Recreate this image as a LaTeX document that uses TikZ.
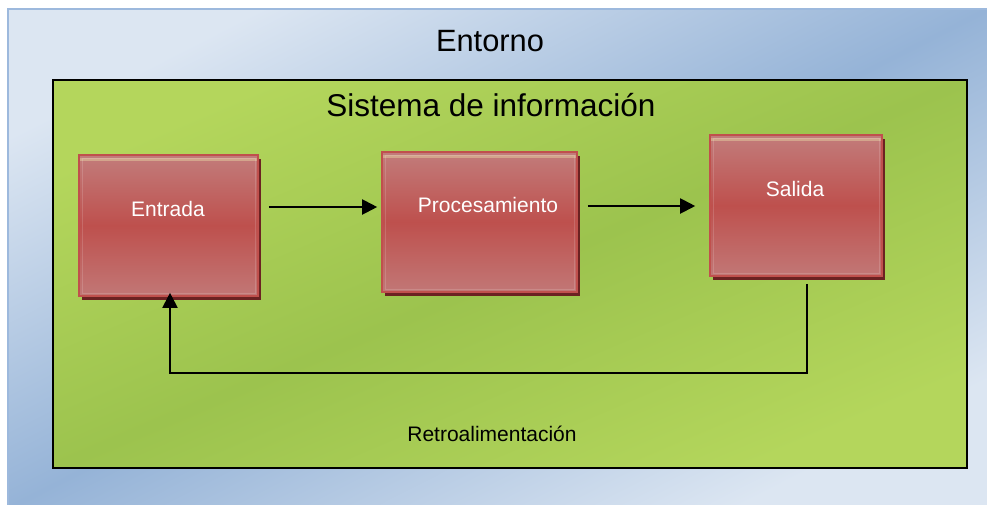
\documentclass[tikz,border=0pt]{standalone}
\usepackage{fontspec}
\setmainfont{Liberation Sans}
\usetikzlibrary{arrows.meta,shadows,calc}
\definecolor{envlight}{HTML}{DCE6F2}
\definecolor{envblue}{HTML}{95B3D7}
\definecolor{envedge}{HTML}{9DB9DD}
\definecolor{sislight}{HTML}{B4D65C}
\definecolor{sismid}{HTML}{9CC34E}
\definecolor{boxl}{HTML}{C27C7B}
\definecolor{boxm}{HTML}{BE504D}
\definecolor{boxedge}{HTML}{C0504D}
\definecolor{boxhi}{HTML}{D3A48C}
\definecolor{shadowred}{HTML}{6B2222}
\pgfdeclareverticalshading{redshade}{100bp}{color(0bp)=(boxl); color(22bp)=(boxl); color(50bp)=(boxm); color(75bp)=(boxl); color(100bp)=(boxl)}
\begin{document}
\begin{tikzpicture}[x=1pt,y=-1pt,
  envframe/.style={draw=envedge, line width=1.5pt, top color=envlight, bottom color=envlight, middle color=envblue, shading angle=27},
  sysbox/.style={rectangle, draw=black, line width=2pt, top color=sislight, bottom color=sislight, middle color=sismid, shading angle=23, inner sep=0pt},
  redbox/.style={rectangle, draw=boxedge, line width=1.6pt, shade, shading=redshade, inner sep=0pt,
    drop shadow={shadow xshift=3pt, shadow yshift=-4pt, fill=shadowred, opacity=1},
    path picture={
      \draw[boxhi, line width=2.5pt] ([yshift=-4.5pt]path picture bounding box.north west) -- ([yshift=-4.5pt]path picture bounding box.north east);
      \draw[white, opacity=0.15, line width=1pt] ([shift={(3pt,-3pt)}]path picture bounding box.north west) rectangle ([shift={(-3pt,3pt)}]path picture bounding box.south east);
    }},
  boxlabel/.style={text=white, font=\fontsize{21}{25}\selectfont, inner sep=0pt, anchor=base},
  biglabel/.style={text=black, inner sep=0pt, anchor=base},
  conn/.style={draw=black, line width=2pt, -{Triangle[length=15pt,width=15pt]}}
]
\useasboundingbox (0,0) rectangle (987,504);
\clip (0,0) rectangle (987,504);
\fill[white] (0,0) rectangle (987,504);
\shade[envframe] (8,9) rectangle (990,507);
\node[biglabel, font=\fontsize{30.8}{36}\selectfont] (entornoT) at (490,51.5) {Entorno};
\node[sysbox, minimum width=914pt, minimum height=388pt] (sistema) at (510,274) {};
\node[biglabel, font=\fontsize{31.5}{37}\selectfont] (sistemaT) at (491,116.7) {Sistema de información};
\node[redbox, minimum width=179pt, minimum height=141pt] (entrada) at (168.5,225.5) {};
\node[redbox, minimum width=195pt, minimum height=140pt] (proc) at (479.5,222) {};
\node[redbox, minimum width=172pt, minimum height=141pt] (salida) at (796,205.5) {};
\node[boxlabel] (entradaT) at (168,216) {Entrada};
\node[boxlabel] (procT) at (488,212) {Procesamiento};
\node[boxlabel] (salidaT) at (795,196) {Salida};
\node[biglabel, font=\fontsize{21}{25}\selectfont] (retroT) at (492,441) {Retroalimentación};
\draw[conn] ([xshift=10pt,yshift=18.5pt]entrada.east) -- ([xshift=-4pt,yshift=15pt]proc.west);
\draw[conn] ([xshift=10pt,yshift=16pt]proc.east) -- ([xshift=-14pt,yshift=-0.5pt]salida.west);
\coordinate (fbR) at (807,373);
\coordinate (fbL) at (170,373);
\draw[conn] ([xshift=11pt,yshift=-7pt]salida.south) -- (fbR) -- (fbL) -- ([xshift=1.5pt,yshift=4pt]entrada.south);
\end{tikzpicture}
\end{document}
